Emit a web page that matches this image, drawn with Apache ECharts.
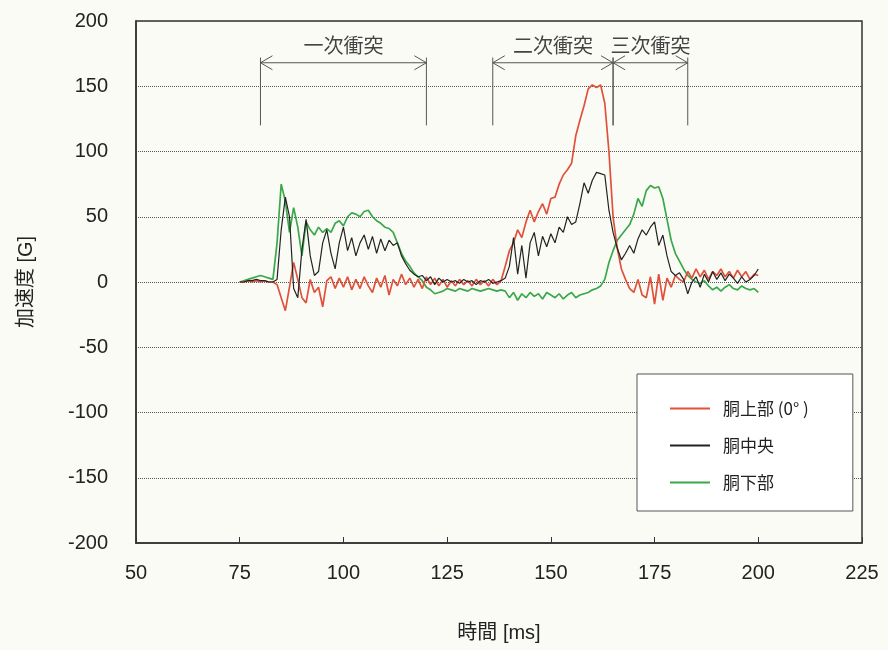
<!DOCTYPE html>
<html>
<head>
<meta charset="utf-8">
<script src="https://cdn.jsdelivr.net/npm/echarts@6/dist/echarts.min.js"></script>
<style>
  html, body { margin: 0; padding: 0; background: #fbfbf6; }
  #chart { width: 888px; height: 650px; }
</style>
</head>
<body>
<div id="chart"></div>
<script>
// time axis [ms]
const times = [
  75, 76, 77, 78, 79, 80, 81, 82, 83, 84, 85, 86, 87, 88, 89, 90, 91, 92, 93, 94,
  95, 96, 97, 98, 99, 100, 101, 102, 103, 104, 105, 106, 107, 108, 109, 110, 111, 112, 113, 114,
  115, 116, 117, 118, 119, 120, 121, 122, 123, 124, 125, 126, 127, 128, 129, 130, 131, 132, 133, 134,
  135, 136, 137, 138, 139, 140, 141, 142, 143, 144, 145, 146, 147, 148, 149, 150, 151, 152, 153, 154,
  155, 156, 157, 158, 159, 160, 161, 162, 163, 164, 165, 166, 167, 168, 169, 170, 171, 172, 173, 174,
  175, 176, 177, 178, 179, 180, 181, 182, 183, 184, 185, 186, 187, 188, 189, 190, 191, 192, 193, 194,
  195, 196, 197, 198, 199, 200
];

// 胴上部 (0°)
const upperValues = [
  0, 0, 1, 0, 1, 0, 1, 0, 0, -2, -12, -22, -4, 15, 2, -12, -16, 2, -8, -4,
  -19, 1, 4, -5, 3, -4, 4, -6, 2, -5, 4, -3, -8, 3, -4, 5, -10, 2, -3, 6,
  -2, 3, -4, 2, -5, 4, -2, 3, -3, 2, -4, 1, -3, 2, -2, 1, -3, 2, -2, 1,
  -3, 2, -2, 1, 12, 24, 30, 40, 34, 46, 55, 46, 54, 60, 52, 64, 65, 75, 82, 86,
  91, 112, 124, 135, 148, 151, 149, 151, 137, 100, 50, 26, 10, 2, -5, -8, 2, -10, -12, 4,
  -17, 6, -14, 3, -4, 5, 2, 0, 8, 3, 10, 4, 9, 2, 8, 5, 10, 4, 8, 3,
  9, 4, 8, 2, 6, 5
];

// 胴中央
const middleValues = [
  0, 0, 1, 1, 2, 1, 1, 0, 0, 2, 40, 65, 50, -5, -12, 25, 48, 20, 5, 8,
  30, 40, 22, 10, 30, 42, 24, 34, 20, 30, 36, 25, 35, 22, 33, 24, 32, 28, 30, 20,
  14, 9, 6, 4, 5, 1, 4, -2, 3, 0, 2, 0, 1, -1, 2, 0, 1, -2, 1, 0,
  2, -1, 0, 1, 3, 12, 34, 6, 28, 3, 30, 38, 20, 35, 27, 37, 30, 42, 38, 50,
  44, 46, 60, 76, 68, 78, 84, 83, 82, 55, 38, 26, 17, 22, 28, 22, 33, 40, 36, 42,
  46, 28, 36, 20, 8, 5, 7, 2, -9, 0, 4, -4, 6, 0, 8, 2, 7, 1, 6, 3,
  -1, 4, 0, 2, 5, 10
];

// 胴下部
const lowerValues = [
  0, 1, 2, 3, 4, 5, 4, 3, 2, 30, 75, 62, 38, 57, 42, 20, 46, 40, 36, 42,
  38, 41, 38, 45, 47, 43, 50, 53, 52, 50, 54, 55, 50, 47, 45, 42, 41, 38, 30, 22,
  16, 12, 7, 4, 1, -4, -6, -9, -8, -7, -5, -6, -7, -5, -6, -7, -5, -6, -7, -6,
  -5, -6, -7, -6, -7, -12, -8, -14, -9, -12, -8, -11, -9, -13, -8, -10, -12, -9, -13, -10,
  -8, -12, -10, -9, -8, -6, -5, -3, 2, 15, 24, 32, 36, 40, 44, 52, 64, 58, 70, 74,
  72, 73, 64, 48, 32, 22, 16, 10, 5, 2, 0, -1, 1, -3, -6, -4, -7, -4, -2, -5,
  -6, -3, -5, -6, -5, -8
];

// impact phases
const impactLabels = ['一次衝突', '二次衝突', '三次衝突'];
const impactStart = [80, 136, 165];
const impactEnd = [120, 165, 183];

const seriesNames = ['胴上部 (0° )', '胴中央', '胴下部'];
const seriesColors = ['#e0513c', '#222222', '#3aa84a'];

const FONT = "'Liberation Sans', 'Noto Sans CJK JP', sans-serif";

const pairs = (vals) => times.map((t, i) => [t, vals[i]]);

const impactData = impactLabels.map((name, i) => [impactStart[i], impactEnd[i], name]);

const renderImpact = (params, api) => {
  const x0 = api.value(0);
  const x1 = api.value(1);
  const top0 = api.coord([x0, 172]);
  const bot0 = api.coord([x0, 120]);
  const top1 = api.coord([x1, 172]);
  const bot1 = api.coord([x1, 120]);
  const a0 = api.coord([x0, 168]);
  const a1 = api.coord([x1, 168]);
  const label = api.coord([(x0 + x1) / 2, 181]);
  const stroke = { stroke: '#555', lineWidth: 1 };
  const ah = 12;
  const aw = 7;
  return {
    type: 'group',
    children: [
      { type: 'line', shape: { x1: top0[0], y1: top0[1], x2: bot0[0], y2: bot0[1] }, style: stroke },
      { type: 'line', shape: { x1: top1[0], y1: top1[1], x2: bot1[0], y2: bot1[1] }, style: stroke },
      { type: 'line', shape: { x1: a0[0], y1: a0[1], x2: a1[0], y2: a1[1] }, style: stroke },
      {
        type: 'polyline',
        shape: { points: [[a0[0] + ah, a0[1] - aw], [a0[0], a0[1]], [a0[0] + ah, a0[1] + aw]] },
        style: { stroke: '#555', lineWidth: 1, fill: null },
      },
      {
        type: 'polyline',
        shape: { points: [[a1[0] - ah, a1[1] - aw], [a1[0], a1[1]], [a1[0] - ah, a1[1] + aw]] },
        style: { stroke: '#555', lineWidth: 1, fill: null },
      },
      {
        type: 'text',
        x: label[0],
        y: label[1],
        style: {
          text: api.value(2),
          fill: '#444',
          font: "20px 'Noto Sans CJK JP', sans-serif",
          align: 'center',
          verticalAlign: 'middle',
        },
      },
    ],
  };
};

const chart = echarts.init(document.getElementById('chart'));

const option = {
  backgroundColor: '#fbfbf6',
  animation: false,
  textStyle: { fontFamily: FONT },
  grid: {
    left: 136,
    right: 26,
    top: 21,
    bottom: 107,
    show: true,
    borderColor: '#333',
    borderWidth: 1.5,
    backgroundColor: 'transparent',
  },
  legend: {
    data: seriesNames,
    orient: 'vertical',
    left: 637,
    top: 374,
    padding: [24, 44, 18, 33],
    itemGap: 16,
    itemWidth: 40,
    itemHeight: 2,
    icon: 'rect',
    backgroundColor: '#ffffff',
    borderColor: '#555',
    borderWidth: 1,
    borderRadius: 0,
    textStyle: {
      fontSize: 17,
      color: '#222',
      fontFamily: "'Noto Sans CJK JP', sans-serif",
      padding: [0, 0, 0, 8],
      lineHeight: 21,
    },
  },
  xAxis: {
    type: 'value',
    min: 50,
    max: 225,
    interval: 25,
    name: '時間 [ms]',
    nameLocation: 'middle',
    nameGap: 80,
    nameTextStyle: { fontSize: 20, color: '#222', fontFamily: FONT },
    axisLine: { show: true, onZero: false, lineStyle: { color: '#333', width: 1.5 } },
    axisTick: { show: true, inside: true, length: 6, lineStyle: { color: '#333' } },
    axisLabel: { fontSize: 20, color: '#222', margin: 20, fontFamily: FONT },
    splitLine: { show: false },
  },
  yAxis: {
    type: 'value',
    min: -200,
    max: 200,
    interval: 50,
    name: '加速度 [G]',
    nameLocation: 'middle',
    nameGap: 100,
    nameRotate: 90,
    nameTextStyle: { fontSize: 20, color: '#222', fontFamily: FONT },
    axisLine: { show: true, lineStyle: { color: '#333', width: 1.5 } },
    axisTick: { show: false },
    axisLabel: { fontSize: 20, color: '#222', margin: 28, fontFamily: FONT },
    splitLine: { show: true, lineStyle: { color: '#555', type: 'dotted', width: 1 } },
  },
  series: [
    {
      name: seriesNames[0],
      type: 'line',
      data: pairs(upperValues),
      symbol: 'none',
      color: seriesColors[0],
      lineStyle: { width: 1.7, color: seriesColors[0] },
      z: 4,
    },
    {
      name: seriesNames[1],
      type: 'line',
      data: pairs(middleValues),
      symbol: 'none',
      color: seriesColors[1],
      lineStyle: { width: 1.2, color: seriesColors[1] },
      z: 5,
    },
    {
      name: seriesNames[2],
      type: 'line',
      data: pairs(lowerValues),
      symbol: 'none',
      color: seriesColors[2],
      lineStyle: { width: 1.7, color: seriesColors[2] },
      z: 3,
    },
    {
      type: 'custom',
      data: impactData,
      renderItem: renderImpact,
      clip: false,
      silent: true,
      z: 2,
    },
  ],
};

chart.setOption(option);
</script>
</body>
</html>
